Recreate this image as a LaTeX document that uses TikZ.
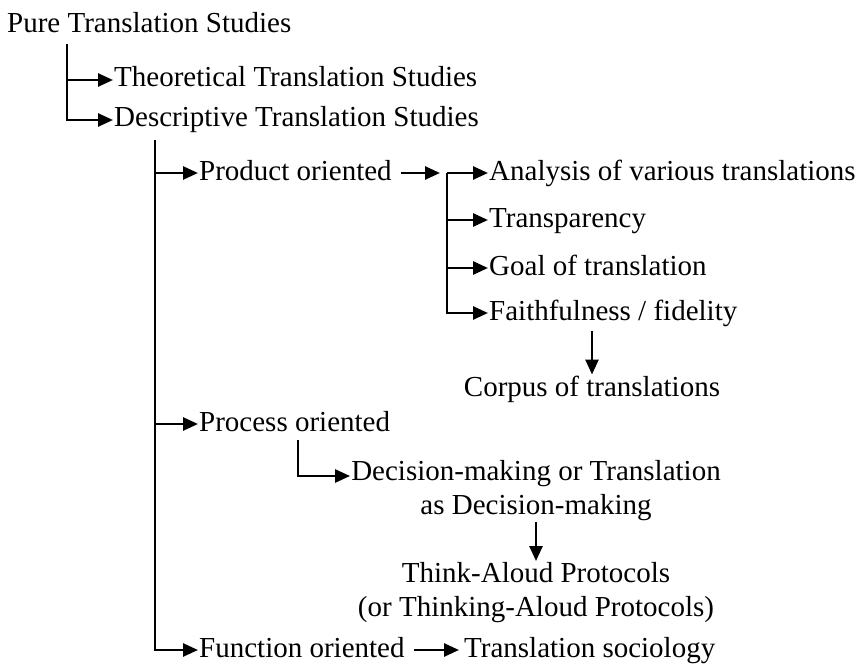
\documentclass[tikz,border=0pt]{standalone}
\usepackage{fontspec}
\setmainfont{Liberation Serif}
\usetikzlibrary{arrows.meta, positioning, calc}

\begin{document}
\begin{tikzpicture}[x=1pt, y=1pt,
      lbl/.style={font=\fontsize{29}{34}\selectfont, inner sep=1pt, anchor=west,
                  text height=20pt, text depth=6pt},
      block/.style={font=\fontsize{29}{34}\selectfont, inner sep=1pt, align=center},
      arr/.style={-{Triangle[length=15pt, width=13pt]}, line width=2.6pt},
    ]
      \useasboundingbox (0,0) rectangle (865,-666);

      % top level
      \node[lbl] (pure) at (6,-26) {Pure Translation Studies};
      \node[lbl] (theo) at (113,-80) {Theoretical Translation Studies};
      \node[lbl] (desc) at (113,-120) {Descriptive Translation Studies};

      % descriptive branches
      \node[lbl] (prod) at (198,-173) {Product oriented};
      \node[lbl] (proc) at (198,-424) {Process oriented};
      \node[lbl] (func) at (198,-650) {Function oriented};

      % product oriented
      \node[lbl] (anal) at (488,-173) {Analysis of various translations};
      \node[lbl] (transp) at (488,-220) {Transparency};
      \node[lbl] (goal) at (488,-268) {Goal of translation};
      \node[lbl] (faith) at (488,-313) {Faithfulness / fidelity};
      \node[block] (corpus) at (592,-389) {Corpus of translations};

      % process oriented
      \node[block, anchor=north] (decide) at (536,-459) {Decision-making or Translation\\as Decision-making};
      \node[block, anchor=north] (tap) at (536,-561) {Think-Aloud Protocols\\(or Thinking-Aloud Protocols)};

      % function oriented
      \node[lbl] (socio) at (463,-650) {Translation sociology};

      \coordinate (puretrunk) at (67,-44);
      \coordinate (desctrunk) at (155,-140);
      \coordinate (prodtrunk) at (447,-173);
      \coordinate (proctrunk) at (298,-440);

      \draw[arr] (puretrunk) |- (desc.west);
      \draw[arr] (puretrunk |- theo.west) -- (theo.west);

      \draw[arr] (desctrunk) |- (func.west);
      \draw[arr] (desctrunk |- prod.west) -- (prod.west);
      \draw[arr] (desctrunk |- proc.west) -- (proc.west);

      \draw[arr] ([xshift=8pt]prod.east) -- ([xshift=-7pt]prodtrunk);
      \draw[arr] (prodtrunk) |- (faith.west);
      \foreach \n in {anal, transp, goal}
        \draw[arr] (prodtrunk |- \n.west) -- (\n.west);
      \draw[arr] ([yshift=-4pt]corpus.north |- faith.south) -- (corpus.north);

      \draw[arr] (proctrunk) |- ([yshift=-17pt]decide.north west);
      \draw[arr] (decide.south -| tap.north) -- (tap.north);

      \draw[arr] ([xshift=8pt]func.east) -- ([xshift=-4pt]socio.west);
    \end{tikzpicture}
\end{document}
